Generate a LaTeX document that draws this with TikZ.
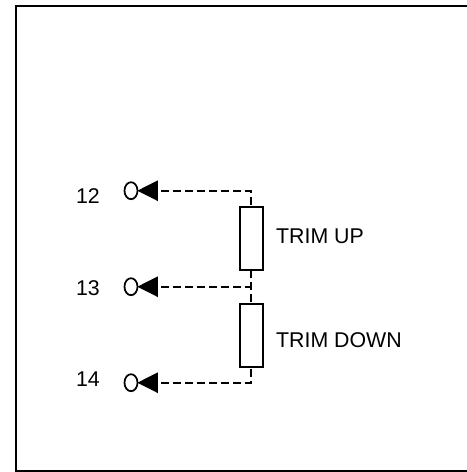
\documentclass[tikz,border=0pt]{standalone}
\usepackage{fontspec}
\setmainfont{Liberation Sans}
\usetikzlibrary{shapes.geometric}
\begin{document}
\begin{tikzpicture}[x=0.75pt,y=-0.75pt,
  frame/.style={draw=black,line width=1.5pt},
  resistor/.style={draw=black,line width=1.5pt,fill=white,minimum width=23*0.75pt,minimum height=#1*0.75pt,inner sep=0pt,outer sep=0pt},
  terminal/.style={draw=black,line width=1.3pt,ellipse,minimum width=13*0.75pt,minimum height=17*0.75pt,inner sep=0pt,outer sep=0pt},
  wire/.style={draw=black,line width=1.5pt,dash pattern=on 6pt off 3pt},
  tip/.style={fill=black,draw=none},
  lbl/.style={font=\fontsize{16}{19}\selectfont,inner sep=0pt,outer sep=0pt,text=black}]
\useasboundingbox (0,0) rectangle (467,472);
\clip (0,0) rectangle (467,472);
\draw[frame] (15.5,5.5) rectangle (470,470.5);
% resistors
\node[resistor=63] (rup) at (251,238.5) {};
\node[resistor=63] (rdn) at (251,335) {};
% terminals
\node[terminal] (t12) at (131,190.7) {};
\node[terminal] (t13) at (131,286.7) {};
\node[terminal] (t14) at (131,382.7) {};
\foreach \c in {t12,t13,t14}{
  \fill[tip] ([xshift=4.8pt]\c.center) -- ([xshift=20.2pt,yshift=-7.8pt]\c.center) -- ([xshift=20.2pt,yshift=7.8pt]\c.center) -- cycle;
}
% wires
\coordinate (w12) at (161,190.5);
\coordinate (c12) at (251,190.5);
\coordinate (w13) at (161,286.7);
\coordinate (c13) at (251,286.7);
\coordinate (w14) at (161,382.7);
\coordinate (c14) at (251,382.7);
\draw[wire] (w12) -- (c12) -- (rup.north);
\draw[wire] (w13) -- (c13);
\draw[wire] (rup.south) -- (c13) -- (rdn.north);
\draw[wire] (w14) -- (c14) -- (rdn.south);
% labels
\node[lbl,anchor=base west] (l12) at (76,203.3) {12};
\node[lbl,anchor=base west] (l13) at (76,295) {13};
\node[lbl,anchor=base west] (l14) at (76,386.7) {14};
\node[lbl,anchor=base west] (lup) at (276.2,243) {TRIM UP};
\node[lbl,anchor=base west] (ldn) at (276.2,347) {TRIM DOWN};
\end{tikzpicture}
\end{document}
